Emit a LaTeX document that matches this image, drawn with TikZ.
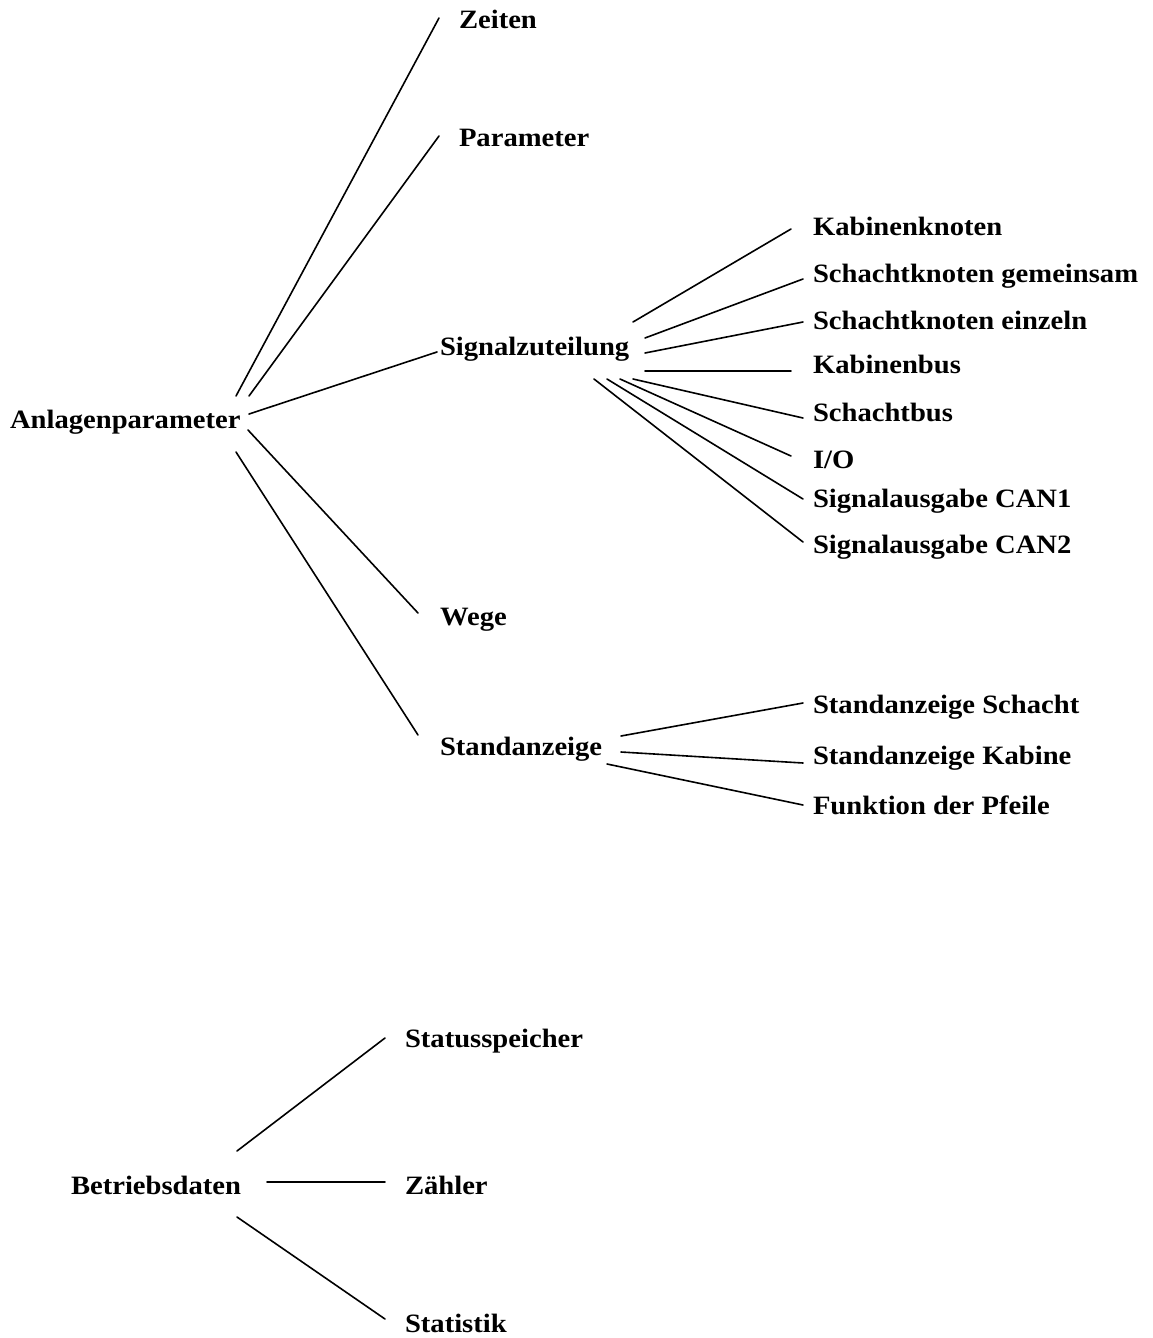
\documentclass[tikz,border=0pt]{standalone}
\usepackage{fontspec}
\setmainfont[FakeStretch=1.08]{Liberation Serif}
\begin{document}
\begin{tikzpicture}[x=1pt,y=-1pt,
  lbl/.style={anchor=base west,inner sep=0pt,outer sep=0pt,
    font=\fontsize{26.5}{31}\selectfont\bfseries},
  link/.style={line width=1.6pt,line cap=round}]
\useasboundingbox (0,0) rectangle (1152,1338);

% --- labels ---
\node[lbl] (ap)  at (10,428)  {Anlagenparameter};
\node[lbl] (zt)  at (459,29)  {Zeiten};
\node[lbl] (pa)  at (459,146) {Parameter};
\node[lbl] (sz)  at (440,355) {Signalzuteilung};
\node[lbl] (wg)  at (440,625) {Wege};
\node[lbl] (sa)  at (440,755) {Standanzeige};

\node[lbl] (kk)  at (813,235) {Kabinenknoten};
\node[lbl] (skg) at (813,282) {Schachtknoten gemeinsam};
\node[lbl] (ske) at (813,329) {Schachtknoten einzeln};
\node[lbl] (kb)  at (813,373) {Kabinenbus};
\node[lbl] (sb)  at (813,421) {Schachtbus};
\node[lbl] (io)  at (813,468) {I/O};
\node[lbl] (c1)  at (813,507) {Signalausgabe CAN1};
\node[lbl] (c2)  at (813,553) {Signalausgabe CAN2};

\node[lbl] (sas) at (813,713) {Standanzeige Schacht};
\node[lbl] (sak) at (813,764) {Standanzeige Kabine};
\node[lbl] (fp)  at (813,814) {Funktion der Pfeile};

\node[lbl] (bd)  at (71,1194)  {Betriebsdaten};
\node[lbl] (ss)  at (405,1047) {Statusspeicher};
\node[lbl] (zl)  at (405,1194) {Zähler};
\node[lbl] (st)  at (405,1332) {Statistik};

% --- connector end points ---
\coordinate (ap-zt) at (236,396); \coordinate (zt-in) at (439,18);
\coordinate (ap-pa) at (249,396); \coordinate (pa-in) at (439,136);
\coordinate (ap-sz) at (249,414); \coordinate (sz-in) at (437,352);
\coordinate (ap-wg) at (248,430); \coordinate (wg-in) at (418,613);
\coordinate (ap-sa) at (236,452); \coordinate (sa-in) at (418,735);

\coordinate (sz-kk)  at (633,322); \coordinate (kk-in)  at (791,229);
\coordinate (sz-skg) at (645,338); \coordinate (skg-in) at (803,279);
\coordinate (sz-ske) at (645,353); \coordinate (ske-in) at (803,322);
\coordinate (sz-kb)  at (645,371); \coordinate (kb-in)  at (791,371);
\coordinate (sz-sb)  at (633,379); \coordinate (sb-in)  at (803,418);
\coordinate (sz-io)  at (620,379); \coordinate (io-in)  at (791,456);
\coordinate (sz-c1)  at (607,379); \coordinate (c1-in)  at (803,499);
\coordinate (sz-c2)  at (594,379); \coordinate (c2-in)  at (803,542);

\coordinate (sa-sas) at (621,736); \coordinate (sas-in) at (803,703);
\coordinate (sa-sak) at (621,752); \coordinate (sak-in) at (803,763);
\coordinate (sa-fp)  at (607,764); \coordinate (fp-in)  at (803,805);

\coordinate (bd-ss) at (237,1151); \coordinate (ss-in) at (385,1038);
\coordinate (bd-zl) at (267,1182); \coordinate (zl-in) at (385,1182);
\coordinate (bd-st) at (237,1217); \coordinate (st-in) at (385,1319);

% --- connectors ---
\foreach \a/\b in {ap-zt/zt-in, ap-pa/pa-in, ap-sz/sz-in, ap-wg/wg-in, ap-sa/sa-in,
  sz-kk/kk-in, sz-skg/skg-in, sz-ske/ske-in, sz-kb/kb-in, sz-sb/sb-in,
  sz-io/io-in, sz-c1/c1-in, sz-c2/c2-in,
  sa-sas/sas-in, sa-sak/sak-in, sa-fp/fp-in,
  bd-ss/ss-in, bd-zl/zl-in, bd-st/st-in}
  \draw[link] (\a) -- (\b);
\end{tikzpicture}
\end{document}
